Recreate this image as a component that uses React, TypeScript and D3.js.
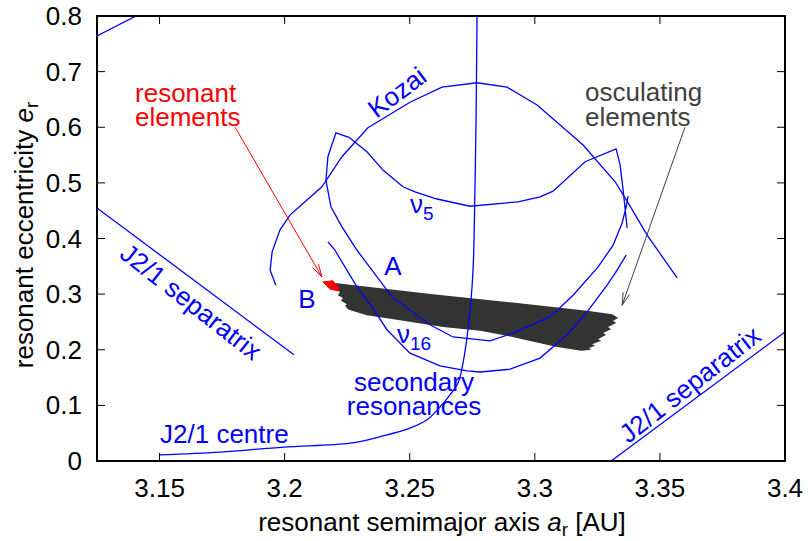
import React from "react";
import * as d3 from "d3";

// axis ticks
const aTicks = [3.15, 3.2, 3.25, 3.3, 3.35, 3.4];
const eTicks = [0, 0.1, 0.2, 0.3, 0.4, 0.5, 0.6, 0.7, 0.8];

// J2/1 separatrix branches
const sepTopA = [3.125, 3.1406];
const sepTopE = [0.764, 0.8];
const sepLeftA = [3.125, 3.2037];
const sepLeftE = [0.455, 0.191];
const sepRightA = [3.3305, 3.4];
const sepRightE = [0.0, 0.232];

// J2/1 centre
const centreA = [3.1498, 3.1742, 3.1997, 3.2261, 3.2393, 3.2501, 3.2569, 3.2621, 3.2661, 3.2693, 3.2709, 3.2725, 3.2737, 3.2745, 3.2753, 3.2757, 3.2765, 3.2769];
const centreE = [0.011, 0.016, 0.025, 0.032, 0.045, 0.059, 0.074, 0.097, 0.119, 0.14, 0.167, 0.209, 0.253, 0.289, 0.343, 0.397, 0.613, 0.8];

// Kozai
const kozaiA = [3.1965, 3.1942, 3.195, 3.1981, 3.2021, 3.2061, 3.2149, 3.2229, 3.2333, 3.2501, 3.2629, 3.2769, 3.2889, 3.3009, 3.3193, 3.3321, 3.3373, 3.3449, 3.3569];
const kozaiE = [0.316, 0.343, 0.376, 0.415, 0.442, 0.458, 0.493, 0.547, 0.599, 0.645, 0.672, 0.68, 0.672, 0.64, 0.568, 0.502, 0.464, 0.406, 0.329];

// nu5 (with branch A)
const nu5A = [3.3369, 3.3353, 3.3341, 3.3325, 3.3201, 3.3073, 3.3021, 3.2933, 3.2741, 3.2609, 3.2521, 3.2473, 3.2393, 3.2329, 3.2257, 3.2205, 3.2173, 3.2165, 3.2185, 3.2229, 3.2289, 3.2349, 3.2429, 3.2581, 3.2673, 3.2821, 3.2913, 3.3061, 3.3153, 3.3253, 3.3313, 3.3349, 3.3365, 3.3373];
const nu5E = [0.419, 0.487, 0.532, 0.561, 0.538, 0.485, 0.475, 0.466, 0.458, 0.471, 0.484, 0.493, 0.523, 0.556, 0.582, 0.59, 0.547, 0.505, 0.457, 0.421, 0.379, 0.343, 0.295, 0.245, 0.223, 0.216, 0.23, 0.259, 0.298, 0.349, 0.388, 0.428, 0.457, 0.476];

// nu16 / secondary
const nu16A = [3.2173, 3.2201, 3.2289, 3.2349, 3.2409, 3.2501, 3.2621, 3.2729, 3.2781, 3.2901, 3.3021, 3.3129, 3.3209, 3.3289, 3.3329, 3.3365];
const nu16E = [0.394, 0.379, 0.313, 0.277, 0.236, 0.194, 0.171, 0.162, 0.16, 0.165, 0.185, 0.227, 0.268, 0.316, 0.343, 0.37];

// osculating elements cloud outline
const oscA = [3.2201, 3.2593, 3.2889, 3.3209, 3.3309, 3.3333, 3.3313, 3.3325, 3.3293, 3.3305, 3.3273, 3.3285, 3.3253, 3.3265, 3.3229, 3.3241, 3.3217, 3.3225, 3.3185, 3.3089, 3.2889, 3.2781, 3.2633, 3.2461, 3.2329, 3.2269, 3.2253, 3.2241, 3.2249, 3.2225, 3.2233, 3.2213, 3.2221, 3.2201, 3.2193];
const oscE = [0.32, 0.3, 0.286, 0.27, 0.264, 0.257, 0.252, 0.248, 0.241, 0.237, 0.23, 0.227, 0.219, 0.216, 0.21, 0.207, 0.203, 0.2, 0.198, 0.205, 0.225, 0.234, 0.241, 0.253, 0.262, 0.27, 0.273, 0.279, 0.282, 0.288, 0.293, 0.298, 0.304, 0.309, 0.315];

// resonant elements
const resA = [3.2153, 3.2193, 3.2217, 3.2213, 3.2181];
const resE = [0.322, 0.324, 0.311, 0.306, 0.309];

const W = 808;
const H = 541;
const FONT = "'Liberation Sans', Arial, sans-serif";
const FS = 26;
const SUB = 19;
const BLUE = "#0000ff";

const zip = (a: number[], e: number[]) => a.map((v, i) => [v, e[i]] as [number, number]);

export default function App() {
  const x = d3.scaleLinear().domain([3.125, 3.4]).range([97, 785]);
  const y = d3.scaleLinear().domain([0, 0.8]).range([461, 16]);
  const line = d3.line<[number, number]>().x((d) => x(d[0])).y((d) => y(d[1]));
  const smooth = d3.line<[number, number]>().x((d) => x(d[0])).y((d) => y(d[1])).curve(d3.curveCatmullRom);
  const fmt = (v: number) => String(+v.toFixed(2));

  const arrow = (a1: number, e1: number, a2: number, e2: number, color: string) => {
    const x1 = x(a1), y1 = y(e1), x2 = x(a2), y2 = y(e2);
    const th = Math.atan2(y1 - y2, x1 - x2);
    const L = 13, h = (15 * Math.PI) / 180;
    const d = `M${x1},${y1}L${x2},${y2}M${x2 + L * Math.cos(th + h)},${y2 + L * Math.sin(th + h)}L${x2},${y2}L${x2 + L * Math.cos(th - h)},${y2 + L * Math.sin(th - h)}`;
    return <path d={d} fill="none" stroke={color} strokeWidth={1} />;
  };

  const [x0, x1] = x.range();
  const [y0, y1] = y.range();

  return (
    <svg width={W} height={H} style={{ display: "block", position: "absolute", left: 0, top: 0 }} fontFamily={FONT} fontSize={FS}>
      <defs>
        <clipPath id="plot">
          <rect x={x0} y={y1} width={x1 - x0} height={y0 - y1} />
        </clipPath>
      </defs>
      <rect width={W} height={H} fill="#fff" />

      <g clipPath="url(#plot)" fill="none" stroke={BLUE} strokeWidth={1.3}>
        <path d={line(zip(oscA, oscE)) + "Z"} fill="#333333" stroke="none" />
        <path d={line(zip(resA, resE)) + "Z"} fill="#ff0000" stroke="#ff0000" strokeWidth={1} />
        <path d={line(zip(sepTopA, sepTopE))!} />
        <path d={line(zip(sepLeftA, sepLeftE))!} />
        <path d={line(zip(sepRightA, sepRightE))!} />
        <path d={smooth(zip(centreA, centreE))!} />
        <path d={line(zip(kozaiA, kozaiE))!} />
        <path d={line(zip(nu5A, nu5E))!} />
        <path d={line(zip(nu16A, nu16E))!} />
      </g>

      {/* frame and ticks */}
      <g stroke="#000" strokeWidth={1}>
        {aTicks.map((t) => (
          <g key={"a" + t}>
            <line x1={x(t)} x2={x(t)} y1={y0} y2={y0 - 8} />
            <line x1={x(t)} x2={x(t)} y1={y1} y2={y1 + 8} />
          </g>
        ))}
        {eTicks.map((t) => (
          <g key={"e" + t}>
            <line x1={x0} x2={x0 + 8} y1={y(t)} y2={y(t)} />
            <line x1={x1} x2={x1 - 8} y1={y(t)} y2={y(t)} />
          </g>
        ))}
        <rect x={x0} y={y1} width={x1 - x0} height={y0 - y1} fill="none" strokeWidth={2} />
      </g>

      {aTicks.map((t) => (
        <text key={"at" + t} x={x(t)} y={497} textAnchor="middle">{fmt(t)}</text>
      ))}
      {eTicks.map((t) => (
        <text key={"et" + t} x={82} y={y(t)} dy="0.35em" textAnchor="end">{fmt(t)}</text>
      ))}

      <text x={442} y={531} textAnchor="middle">
        resonant semimajor axis <tspan fontStyle="italic">a</tspan>
        <tspan fontSize={SUB} dy={5}>r</tspan>
        <tspan dy={-5}> [AU]</tspan>
      </text>
      <text transform={`translate(33,235) rotate(-90)`} textAnchor="middle">
        resonant eccentricity <tspan fontStyle="italic">e</tspan>
        <tspan fontSize={SUB} dy={5}>r</tspan>
      </text>

      {/* annotations */}
      <g fill={BLUE}>
        <text transform={`translate(${x(3.2449)},${y(0.663)}) rotate(-37)`} textAnchor="middle" dy="0.35em">Kozai</text>
        <text x={x(3.2501)} y={y(0.445)}>ν<tspan fontSize={SUB} dy={7}>5</tspan></text>
        <text x={x(3.2449)} y={y(0.213)}>ν<tspan fontSize={SUB} dy={7}>16</tspan></text>
        <text x={x(3.2433)} y={y(0.334)} textAnchor="middle">A</text>
        <text x={x(3.2089)} y={y(0.275)} textAnchor="middle">B</text>
        <text x={x(3.2517)} y={y(0.125)} textAnchor="middle">secondary</text>
        <text x={x(3.2517)} y={y(0.083)} textAnchor="middle">resonances</text>
        <text x={x(3.1502)} y={y(0.032)}>J2/1 centre</text>
        <text transform={`translate(${x(3.1626)},${y(0.286)}) rotate(38)`} textAnchor="middle" dy="0.35em">J2/1 separatrix</text>
        <text transform={`translate(${x(3.362)},${y(0.138)}) rotate(-38)`} textAnchor="middle" dy="0.35em">J2/1 separatrix</text>
      </g>
      <g fill="#ff0000">
        <text x={x(3.1402)} y={y(0.645)}>resonant</text>
        <text x={x(3.1402)} y={y(0.603)}>elements</text>
      </g>
      <g fill="#404040">
        <text x={x(3.3201)} y={y(0.647)}>osculating</text>
        <text x={x(3.3201)} y={y(0.603)}>elements</text>
      </g>
      {arrow(3.1802, 0.6, 3.2149, 0.331, "#ff0000")}
      {arrow(3.36, 0.6, 3.3349, 0.28, "#404040")}
    </svg>
  );
}
